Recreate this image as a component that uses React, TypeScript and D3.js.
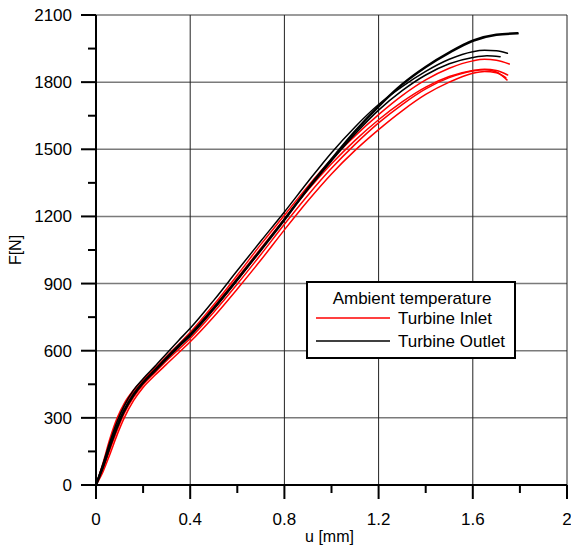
import * as d3 from 'd3'

// displacement grid shared by all specimens up to 1.6 mm
const uBase = [0, 0.03, 0.06, 0.09, 0.12, 0.16, 0.2, 0.25, 0.3, 0.35, 0.4, 0.5, 0.6, 0.7, 0.8, 0.9, 1.0, 1.1, 1.2, 1.3, 1.4, 1.5, 1.6]

// turbine outlet (black)
const uOutA = [...uBase, 1.7, 1.79]
const fOutA = [0, 85, 180, 265, 335, 405, 458, 512, 568, 622, 672, 790, 918, 1050, 1185, 1325, 1455, 1580, 1692, 1790, 1868, 1932, 1985, 2012, 2018]
const uOutB = [...uBase, 1.65, 1.7, 1.747]
const fOutB = [0, 95, 195, 285, 355, 425, 475, 530, 588, 645, 700, 825, 958, 1090, 1220, 1355, 1485, 1600, 1700, 1780, 1848, 1902, 1936, 1942, 1940, 1929]
const uOutC = [...uBase, 1.66, 1.716]
const fOutC = [0, 80, 170, 255, 328, 400, 455, 508, 562, 615, 665, 785, 915, 1050, 1188, 1322, 1448, 1568, 1675, 1762, 1832, 1882, 1910, 1918, 1914]

// turbine inlet (red)
const uIn1 = [...uBase, 1.65, 1.7, 1.755]
const fIn1 = [0, 100, 210, 300, 365, 425, 470, 522, 575, 628, 682, 805, 938, 1075, 1205, 1335, 1455, 1560, 1655, 1740, 1810, 1862, 1895, 1902, 1898, 1881]
const uIn2 = [...uBase, 1.65, 1.7, 1.748]
const fIn2 = [0, 90, 195, 285, 352, 415, 462, 515, 567, 620, 672, 795, 925, 1058, 1190, 1318, 1435, 1540, 1632, 1712, 1778, 1825, 1852, 1858, 1852, 1832]
const uIn3 = [...uBase, 1.65, 1.7, 1.745]
const fIn3 = [0, 70, 160, 245, 320, 393, 448, 502, 555, 605, 655, 772, 898, 1030, 1165, 1295, 1415, 1522, 1618, 1700, 1770, 1820, 1850, 1855, 1845, 1810]
const uIn4 = [...uBase, 1.65, 1.7, 1.74]
const fIn4 = [0, 60, 140, 225, 300, 378, 436, 490, 540, 590, 640, 752, 876, 1005, 1140, 1270, 1390, 1495, 1588, 1672, 1745, 1800, 1840, 1848, 1842, 1820]

const xMajor = [0, 0.4, 0.8, 1.2, 1.6, 2]
const xMinor = [0.2, 0.6, 1.0, 1.4, 1.8]
const yMajor = [0, 300, 600, 900, 1200, 1500, 1800, 2100]
const yMinor = [150, 450, 750, 1050, 1350, 1650, 1950]

const legendTitle = 'Ambient temperature'
const legendItems = [
  { label: 'Turbine Inlet', color: '#ff0000' },
  { label: 'Turbine Outlet', color: '#000000' },
]

const font = '"Liberation Sans", Arial, sans-serif'

export default function App() {
  const x = d3.scaleLinear().domain([0, 2]).range([96, 567])
  const y = d3.scaleLinear().domain([0, 2100]).range([485, 15])

  const line = d3.line<[number, number]>()
    .x(d => x(d[0]))
    .y(d => y(d[1]))
    .curve(d3.curveMonotoneX)

  const pts = (u: number[], f: number[]) => u.map((v, i) => [v, f[i]] as [number, number])

  const series = [
    { id: 'in1', d: pts(uIn1, fIn1), color: '#ff0000', w: 1.5 },
    { id: 'in2', d: pts(uIn2, fIn2), color: '#ff0000', w: 1.5 },
    { id: 'in3', d: pts(uIn3, fIn3), color: '#ff0000', w: 1.5 },
    { id: 'in4', d: pts(uIn4, fIn4), color: '#ff0000', w: 1.5 },
    { id: 'outC', d: pts(uOutC, fOutC), color: '#000000', w: 1.5 },
    { id: 'outB', d: pts(uOutB, fOutB), color: '#000000', w: 1.5 },
    { id: 'outA', d: pts(uOutA, fOutA), color: '#000000', w: 2.5 },
  ]

  const lx = 307, ly = 282

  return (
    <svg width={571} height={549} style={{ position: 'absolute', left: 0, top: 0, background: '#fff' }}
      fontFamily={font} fontSize={17}>
      <rect x={0} y={0} width={571} height={549} fill="#fff" />
      {/* grid */}
      <g>
        {yMajor.filter(v => v > 0).map(v =>
          <line key={'gy' + v} x1={x(0)} x2={x(2)} y1={y(v)} y2={y(v)} stroke="#7a7a7a" strokeWidth={1.5} />)}
        {xMajor.filter(v => v > 0).map(v =>
          <line key={'gx' + v} x1={x(v)} x2={x(v)} y1={y(0)} y2={y(2100)} stroke="#222" strokeWidth={1} />)}
      </g>
      {/* curves */}
      <g fill="none" strokeLinejoin="round" strokeLinecap="round">
        {series.map(s =>
          <path key={s.id} d={line(s.d) ?? ''} stroke={s.color} strokeWidth={s.w} />)}
      </g>
      {/* axes */}
      <g stroke="#000" strokeWidth={2}>
        <line x1={x(0)} x2={x(0)} y1={y(0)} y2={y(2100)} />
        <line x1={x(0)} x2={x(2)} y1={y(0)} y2={y(0)} />
        {yMajor.map(v => <line key={'ty' + v} x1={x(0) - 15} x2={x(0)} y1={y(v)} y2={y(v)} />)}
        {yMinor.map(v => <line key={'tym' + v} x1={x(0) - 8} x2={x(0)} y1={y(v)} y2={y(v)} />)}
        {xMajor.map(v => <line key={'tx' + v} x1={x(v)} x2={x(v)} y1={y(0)} y2={y(0) + 14} />)}
        {xMinor.map(v => <line key={'txm' + v} x1={x(v)} x2={x(v)} y1={y(0)} y2={y(0) + 8} />)}
      </g>
      {yMajor.map(v =>
        <text key={'ly' + v} x={72} y={y(v)} dy="0.35em" textAnchor="end" fill="#000">{v}</text>)}
      {xMajor.map(v =>
        <text key={'lx' + v} x={x(v)} y={525} textAnchor="middle" fill="#000">{String(v)}</text>)}
      <text x={x(1) - 2} y={542} textAnchor="middle" fill="#000" fontSize={16}>u [mm]</text>
      <text transform={`translate(21,${y(1050)}) rotate(-90)`} textAnchor="middle" fill="#000" fontSize={16}>F[N]</text>
      {/* legend */}
      <g>
        <rect x={lx} y={ly} width={208} height={76} fill="#fff" stroke="#000" strokeWidth={2} />
        <text x={lx + 105} y={ly + 22} textAnchor="middle" fill="#000">{legendTitle}</text>
        {legendItems.map((it, i) =>
          <g key={it.label}>
            <line x1={lx + 9} x2={lx + 83} y1={ly + 36 + i * 23} y2={ly + 36 + i * 23} stroke={it.color} strokeWidth={1.5} />
            <text x={lx + 91} y={ly + 36 + i * 23} dy="0.35em" fill="#000">{it.label}</text>
          </g>)}
      </g>
    </svg>
  )
}
